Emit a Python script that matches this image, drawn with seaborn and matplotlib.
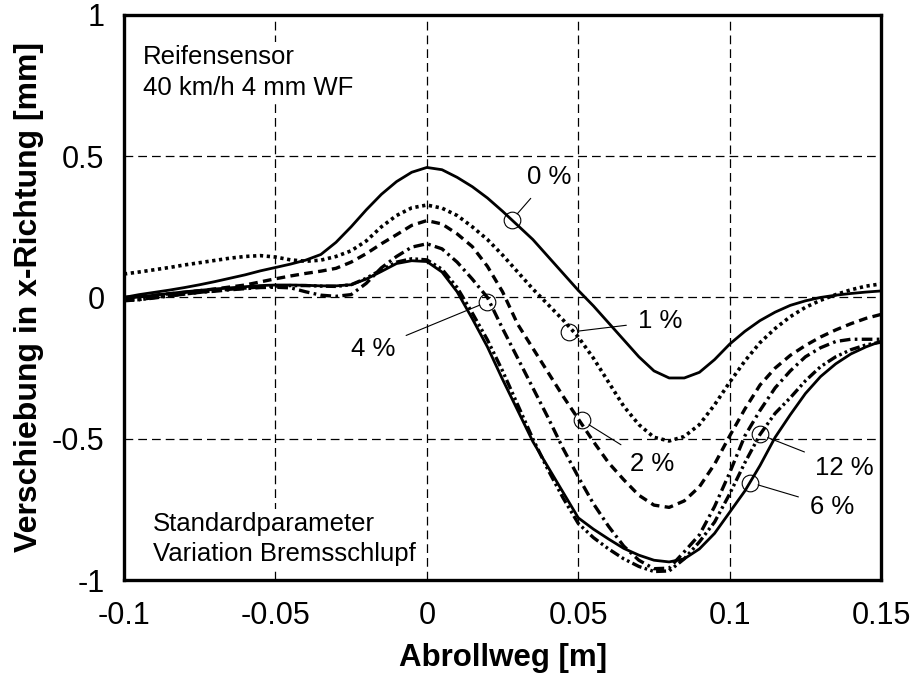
import numpy as np
import pandas as pd
import matplotlib
matplotlib.use("Agg")
import matplotlib.pyplot as plt
import seaborn as sns

# ---------------- data ----------------
x_m = [-0.100, -0.095, -0.090, -0.085, -0.080, -0.075, -0.070, -0.065, -0.060, -0.055,
       -0.050, -0.045, -0.040, -0.035, -0.030, -0.025, -0.020, -0.015, -0.010, -0.005,
       0.000, 0.005, 0.010, 0.015, 0.020, 0.025, 0.030, 0.035, 0.040, 0.045,
       0.050, 0.055, 0.060, 0.065, 0.070, 0.075, 0.080, 0.085, 0.090, 0.095,
       0.100, 0.105, 0.110, 0.115, 0.120, 0.125, 0.130, 0.135, 0.140, 0.145, 0.150]

slip_0 = [0.000, 0.010, 0.018, 0.026, 0.035, 0.045, 0.056, 0.068, 0.080, 0.094,
          0.106, 0.118, 0.132, 0.152, 0.195, 0.250, 0.310, 0.365, 0.410, 0.443,
          0.460, 0.452, 0.425, 0.392, 0.352, 0.305, 0.255, 0.205, 0.145, 0.085,
          0.025, -0.030, -0.090, -0.150, -0.210, -0.260, -0.285, -0.285, -0.265, -0.220,
          -0.165, -0.120, -0.082, -0.052, -0.028, -0.012, 0.000, 0.008, 0.014, 0.019, 0.023]

slip_1 = [0.083, 0.090, 0.098, 0.106, 0.115, 0.123, 0.131, 0.139, 0.145, 0.148,
          0.143, 0.133, 0.128, 0.132, 0.145, 0.165, 0.200, 0.250, 0.290, 0.317,
          0.327, 0.316, 0.290, 0.250, 0.205, 0.150, 0.090, 0.030, -0.025, -0.080,
          -0.140, -0.215, -0.300, -0.385, -0.450, -0.495, -0.508, -0.492, -0.450, -0.380,
          -0.300, -0.225, -0.160, -0.110, -0.068, -0.035, -0.010, 0.010, 0.027, 0.040, 0.048]

slip_2 = [0.000, 0.004, 0.008, 0.013, 0.018, 0.024, 0.030, 0.037, 0.044, 0.055,
          0.066, 0.076, 0.085, 0.093, 0.103, 0.125, 0.155, 0.190, 0.222, 0.255,
          0.272, 0.260, 0.225, 0.180, 0.110, 0.020, -0.095, -0.180, -0.265, -0.350,
          -0.430, -0.510, -0.585, -0.645, -0.700, -0.735, -0.743, -0.720, -0.670, -0.590,
          -0.490, -0.395, -0.310, -0.250, -0.205, -0.170, -0.140, -0.115, -0.093, -0.074, -0.060]

slip_4 = [-0.010, -0.008, 0.000, 0.006, 0.012, 0.018, 0.022, 0.027, 0.031, 0.035,
          0.036, 0.034, 0.020, 0.008, 0.004, 0.010, 0.050, 0.105, 0.145, 0.178,
          0.190, 0.172, 0.125, 0.065, 0.000, -0.110, -0.215, -0.320, -0.425, -0.535,
          -0.635, -0.730, -0.810, -0.880, -0.930, -0.960, -0.958, -0.900, -0.840, -0.740,
          -0.620, -0.490, -0.400, -0.320, -0.260, -0.210, -0.178, -0.156, -0.148, -0.148, -0.148]

slip_6 = [-0.005, 0.002, 0.008, 0.014, 0.020, 0.025, 0.030, 0.034, 0.038, 0.042,
          0.044, 0.044, 0.043, 0.041, 0.041, 0.045, 0.065, 0.092, 0.120, 0.130,
          0.127, 0.090, 0.020, -0.075, -0.175, -0.290, -0.400, -0.510, -0.600, -0.690,
          -0.780, -0.820, -0.855, -0.888, -0.912, -0.930, -0.936, -0.925, -0.890, -0.835,
          -0.760, -0.685, -0.595, -0.495, -0.415, -0.340, -0.280, -0.235, -0.200, -0.175, -0.155]

slip_12 = [-0.012, -0.008, -0.002, 0.005, 0.012, 0.018, 0.024, 0.029, 0.033, 0.037,
           0.040, 0.042, 0.042, 0.040, 0.039, 0.045, 0.068, 0.098, 0.125, 0.137,
           0.133, 0.100, 0.035, -0.055, -0.150, -0.260, -0.380, -0.500, -0.610, -0.710,
           -0.800, -0.850, -0.890, -0.925, -0.952, -0.970, -0.968, -0.925, -0.865, -0.795,
           -0.695, -0.585, -0.485, -0.410, -0.355, -0.295, -0.245, -0.210, -0.185, -0.168, -0.158]

series_names = ["0 %", "1 %", "2 %", "4 %", "6 %", "12 %"]
series_values = [slip_0, slip_1, slip_2, slip_4, slip_6, slip_12]

# annotation markers (point on curve) and label positions
label_point_x = [0.028, 0.047, 0.0512, 0.020, 0.1067, 0.110]
label_point_y = [0.273, -0.123, -0.435, -0.016, -0.655, -0.485]
label_text_x = [0.0405, 0.0770, 0.0745, -0.0178, 0.1337, 0.1380]
label_text_y = [0.427, -0.084, -0.591, -0.183, -0.741, -0.603]

x_ticks = [-0.1, -0.05, 0, 0.05, 0.1, 0.15]
x_tick_labels = ["-0.1", "-0.05", "0", "0.05", "0.1", "0.15"]
y_ticks = [-1, -0.5, 0, 0.5, 1]
y_tick_labels = ["-1", "-0.5", "0", "0.5", "1"]

# ---------------- styling ----------------
sns.set_theme(style="white")
plt.rcParams["font.family"] = ["Liberation Sans", "DejaVu Sans"]
plt.rcParams["text.color"] = "black"
plt.rcParams["axes.labelcolor"] = "black"
plt.rcParams["xtick.color"] = "black"
plt.rcParams["ytick.color"] = "black"

styles = {
    "0 %": dict(linestyle="-", lw=2.0),
    "1 %": dict(linestyle=(0, (0.9, 1.0)), lw=2.6),
    "2 %": dict(linestyle=(0, (2.6, 1.6)), lw=2.4),
    "4 %": dict(linestyle=(0, (3.2, 1.3, 0.8, 1.3)), lw=2.4),
    "6 %": dict(linestyle="-", lw=2.0),
    "12 %": dict(linestyle=(0, (3.0, 1.0, 0.8, 1.0, 0.8, 1.0)), lw=2.4),
}

df = pd.concat([pd.DataFrame({"x": x_m, "y": v, "slip": n})
                for n, v in zip(series_names, series_values)], ignore_index=True)

fig = plt.figure(figsize=(9.15, 6.76), dpi=100)
ax = fig.add_axes([0.1355, 0.142, 0.8275, 0.836])

for name in series_names:
    sub = df[df["slip"] == name]
    sns.lineplot(data=sub, x="x", y="y", ax=ax, color="black",
                 estimator=None, sort=False, legend=False, **styles[name])

ax.set_xlim(-0.1, 0.15)
ax.set_ylim(-1, 1)
ax.set_xticks(x_ticks)
ax.set_xticklabels(x_tick_labels)
ax.set_yticks(y_ticks)
ax.set_yticklabels(y_tick_labels)
ax.tick_params(axis="both", length=0, labelsize=22, colors="black")
ax.tick_params(axis="y", pad=14)
ax.tick_params(axis="x", pad=15)

ax.grid(True, color="black", linestyle=(0, (7, 4)), lw=0.9)
for s in ax.spines.values():
    s.set_visible(True)
    s.set_color("black")
    s.set_linewidth(2.4)

ax.set_xlabel("Abrollweg [m]", fontsize=22.5, fontweight="bold", labelpad=9, color="black")
ax.set_ylabel("Verschiebung in x-Richtung [mm]", fontsize=23, fontweight="bold", labelpad=6, color="black")

# text blocks
box = dict(facecolor="white", edgecolor="none", pad=2)
ax.text(-0.0937, 0.826, "Reifensensor", fontsize=18.5, va="baseline", ha="left", bbox=box, zorder=3)
ax.text(-0.0937, 0.716, "40 km/h 4 mm WF", fontsize=18.5, va="baseline", ha="left", bbox=box, zorder=3)
ax.text(-0.0904, -0.826, "Standardparameter", fontsize=18.5, va="baseline", ha="left", bbox=box, zorder=3)
ax.text(-0.0904, -0.9325, "Variation Bremsschlupf", fontsize=18.5, va="baseline", ha="left", bbox=box, zorder=3)

# labels with leader lines and circles
for name, px, py, tx, ty in zip(series_names, label_point_x, label_point_y, label_text_x, label_text_y):
    ax.plot([px], [py], marker="o", ms=12, mfc="none", mec="black", mew=0.8, zorder=4)
    ax.annotate(name, xy=(px, py), xytext=(tx, ty), fontsize=18.5, ha="center", va="center",
                arrowprops=dict(arrowstyle="-", lw=0.8, color="black", shrinkA=6, shrinkB=6),
                zorder=4)

fig.savefig("out.png", dpi=100)
